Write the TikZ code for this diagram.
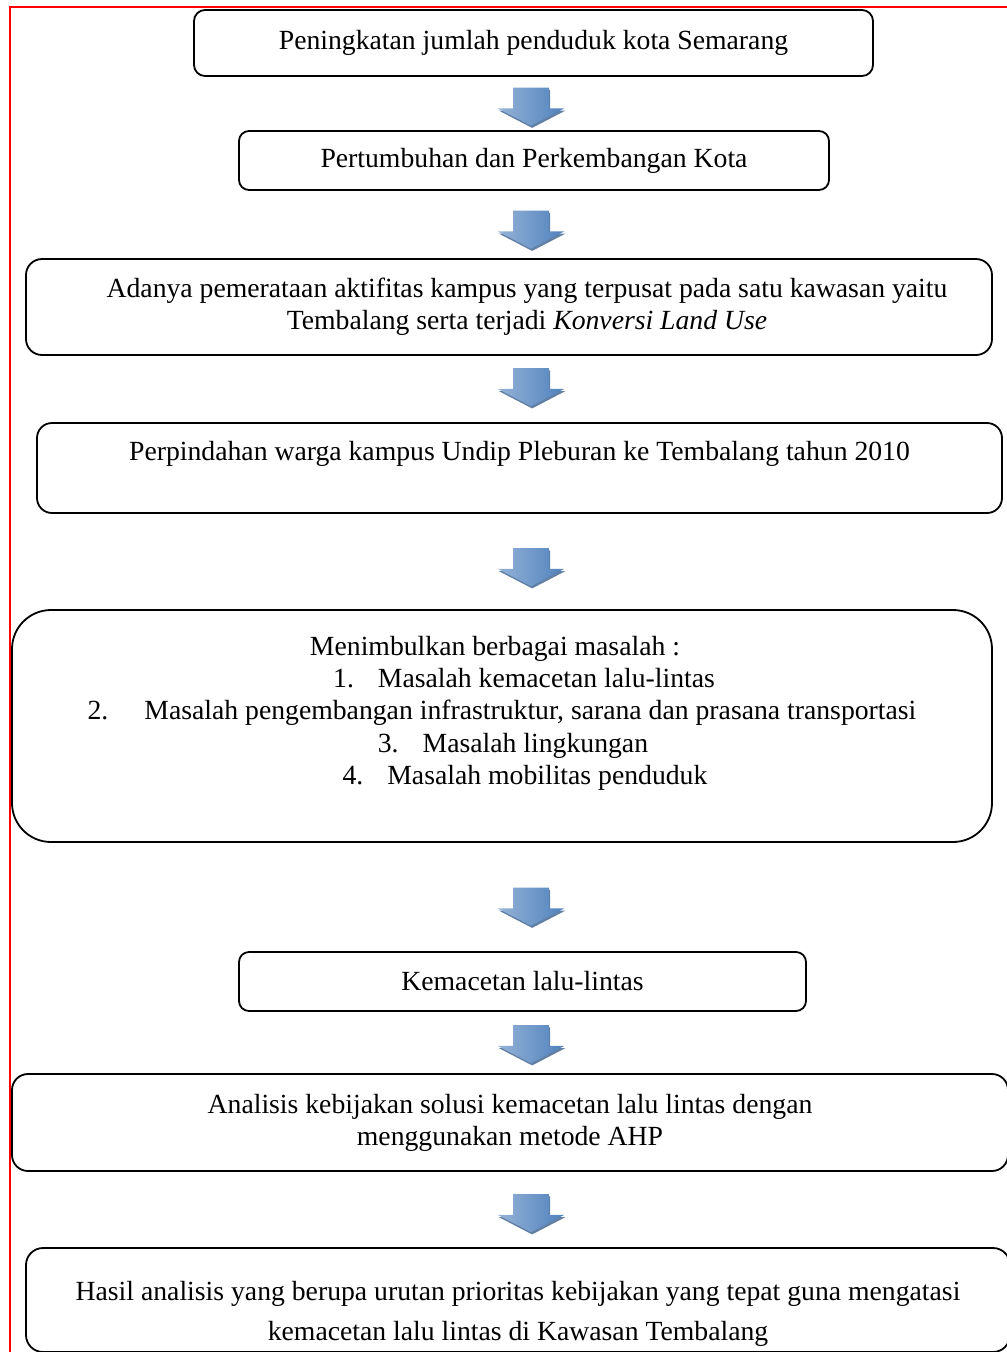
\documentclass[tikz,border=0pt]{standalone}
\usepackage{fontspec}
\setmainfont{Liberation Serif}
\usetikzlibrary{shapes.arrows, shadows, positioning}

\definecolor{arrowlight}{RGB}{149,179,215}
\definecolor{arrowdark}{RGB}{79,129,189}
\definecolor{arrowshade}{RGB}{31,73,125}
\newlength{\pxl}
\setlength{\pxl}{0.444pt}

\begin{document}
\begin{tikzpicture}[
    x=0.444pt, y=-0.444pt,
    box/.style n args={3}{rectangle, draw, line width=0.8pt, rounded corners=#3\pxl, minimum width=#1\pxl, minimum height=#2\pxl, inner sep=0pt, align=center, font=\fontsize{12.3}{14.1}\selectfont},
    down/.style={single arrow, rotate=-90, minimum height=38\pxl, inner xsep=0pt, inner ysep=17.5\pxl, single arrow head extend=15.5\pxl, single arrow tip angle=125, left color=arrowlight, right color=arrowdark, drop shadow={shadow xshift=0.5pt, shadow yshift=-1pt, fill=arrowshade, opacity=0.7}},
    frame/.style={draw=red, line width=1pt}
]
    \path[use as bounding box, clip] (0,0) rectangle (1007,1352);
    \draw[frame] (10,1400) |- (1050,7);

    \node[box={679}{66}{11}] (rise) at (533.5,43) {Peningkatan jumlah penduduk kota Semarang};
    \node[box={590}{59}{10}] (growth) at (534,160.5) {Pertumbuhan dan Perkembangan Kota};
    \node[box={966}{96}{16}] (campus) at (509,307) {\hspace*{36\pxl}Adanya pemerataan aktifitas kampus yang terpusat pada satu kawasan yaitu\\ \hspace*{36\pxl}Tembalang serta terjadi \textit{Konversi Land Use}};
    \node[box={965}{90}{15}, text depth=15pt] (move) at (519.5,468) {Perpindahan warga kampus Undip Pleburan ke Tembalang tahun 2010};
    \node[box={980}{232}{39}, font=\fontsize{12.3}{14.3}\selectfont, text depth=14pt] (issues) at (502,726) {Menimbulkan berbagai masalah :\hspace*{14\pxl}\\
        \hspace*{44\pxl}1.\hspace{24\pxl}Masalah kemacetan lalu-lintas\\
        2.\hspace{36\pxl}Masalah pengembangan infrastruktur, sarana dan prasana transportasi\hspace*{44\pxl}\\
        \hspace*{22\pxl}3.\hspace{24\pxl}Masalah lingkungan\\
        \hspace*{46\pxl}4.\hspace{24\pxl}Masalah mobilitas penduduk};
    \node[box={567}{59}{10}] (jam) at (522.5,981.5) {Kemacetan lalu-lintas};
    \node[box={996}{97}{16}] (ahp) at (510,1122.5) {Analisis kebijakan solusi kemacetan lalu lintas dengan\\menggunakan metode AHP};
    \node[box={984}{104}{17}, text height=39pt] (result) at (518,1300) {Hasil analisis yang berupa urutan prioritas kebijakan yang tepat guna mengatasi\\[4pt]kemacetan lalu lintas di Kawasan Tembalang};

    % block arrows between the boxes
    \node[down] (ar1) at (531,102) {};
    \node[down] (ar2) at (531,225) {};
    \node[down] (ar3) at (531,382.5) {};
    \node[down] (ar4) at (531,562.5) {};
    \node[down] (ar5) at (531,902) {};
    \node[down] (ar6) at (531,1039.5) {};
    \node[down] (ar7) at (531,1208.5) {};
\end{tikzpicture}
\end{document}
